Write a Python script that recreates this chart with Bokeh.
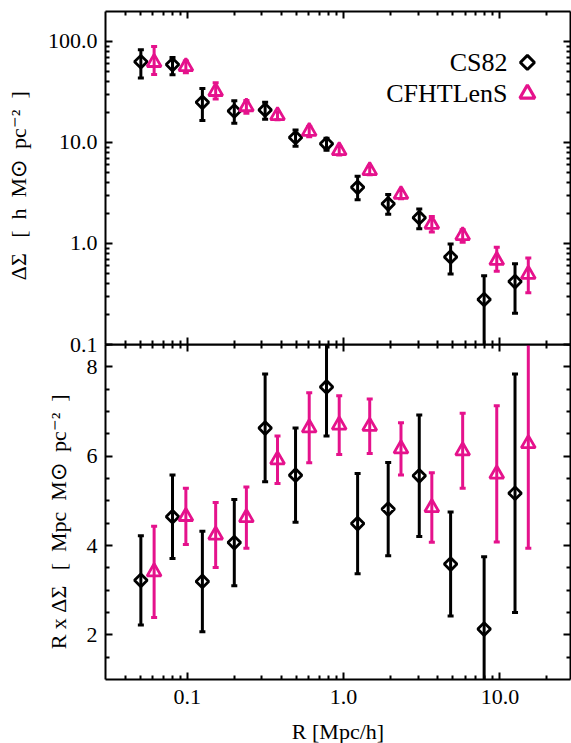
import numpy as np
from bokeh.plotting import figure
from bokeh.layouts import column
from bokeh.models import LogAxis, LinearAxis, FixedTicker, Range1d, CustomJSTickFormatter
from bokeh.core.properties import value
from bokeh.embed import file_html
from bokeh.resources import INLINE

FONT = "Liberation Serif"
AXIS_FONT = '"Liberation Serif"'
MAGENTA = "#E5128C"

# radial bins [Mpc/h]
r_cs82 = [0.0505, 0.0805, 0.125, 0.200, 0.315, 0.493, 0.778, 1.23, 1.93, 3.05, 4.84, 7.93, 12.5]
r_cfht = [0.0614, 0.098, 0.152, 0.239, 0.378, 0.603, 0.938, 1.47, 2.33, 3.67, 5.78, 9.55, 15.2]

# Delta Sigma [h M_sun pc^-2]
ds_cs82 = [63.0, 59.0, 25.0, 20.5, 21.0, 11.2, 9.7, 3.6, 2.47, 1.8, 0.735, 0.279, 0.42]
ds_cs82_lo = [43.5, 46.9, 16.5, 15.5, 17.0, 9.2, 8.4, 2.71, 1.95, 1.4, 0.5, 0.01, 0.204]
ds_cs82_hi = [82.8, 69.5, 34.3, 25.9, 25.0, 13.3, 11.0, 4.64, 3.05, 2.2, 0.99, 0.478, 0.63]

ds_cfht = [62.0, 56.5, 32.0, 22.6, 18.5, 12.9, 8.3, 5.27, 3.06, 1.55, 1.2, 0.68, 0.495]
ds_cfht_lo = [47.0, 49.0, 27.0, 19.5, 16.8, 11.4, 7.5, 4.8, 2.77, 1.3, 1.03, 0.53, 0.325]
ds_cfht_hi = [89.0, 64.0, 39.0, 26.0, 20.2, 14.4, 9.1, 5.76, 3.35, 1.85, 1.37, 0.92, 0.72]

# R x Delta Sigma [Mpc M_sun pc^-2]
rds_cs82 = [3.22, 4.645, 3.195, 4.065, 6.63, 5.575, 7.55, 4.49, 4.815, 5.56, 3.585, 2.13, 5.17]
rds_cs82_lo = [2.22, 3.71, 2.07, 3.10, 5.43, 4.52, 6.45, 3.37, 3.77, 4.20, 2.42, 0.5, 2.50]
rds_cs82_hi = [4.22, 5.58, 4.32, 5.03, 7.84, 6.63, 8.65, 5.61, 5.86, 6.92, 4.75, 3.75, 7.84]

rds_cfht = [3.41, 4.65, 4.235, 4.625, 5.92, 6.635, 6.695, 6.67, 6.165, 4.85, 6.12, 5.6, 6.28]
rds_cfht_lo = [2.39, 4.02, 3.51, 3.94, 5.39, 5.85, 6.04, 6.06, 5.58, 4.07, 5.28, 4.08, 3.94]
rds_cfht_hi = [4.43, 5.28, 4.96, 5.31, 6.45, 7.42, 7.35, 7.28, 6.75, 5.63, 6.96, 7.13, 8.62]

x_major = [0.1, 1.0, 10.0]
x_minor = [0.04, 0.05, 0.06, 0.07, 0.08, 0.09, 0.2, 0.3, 0.4, 0.5, 0.6, 0.7, 0.8, 0.9,
           2, 3, 4, 5, 6, 7, 8, 9, 20]
y1_major = [0.1, 1.0, 10.0, 100.0]
y1_minor = [0.2, 0.3, 0.4, 0.5, 0.6, 0.7, 0.8, 0.9, 2, 3, 4, 5, 6, 7, 8, 9,
            20, 30, 40, 50, 60, 70, 80, 90, 200]
y2_major = [2, 4, 6, 8]
y2_minor = [1.5, 2.5, 3, 3.5, 4.5, 5, 5.5, 6.5, 7, 7.5, 8.5]

one_decimal = CustomJSTickFormatter(code="return tick.toFixed(1);")
blank = CustomJSTickFormatter(code="return '';")

EN, EM, THIN = "\u2002", "\u2003", "\u2009"
y1_title = "ΔΣ" + EN + THIN + "[" + EN + "h" + EN + "M\u2299" + EN + "pc\u207b\u00b2" + EN + "]" + EN + THIN
y2_title = "R x ΔΣ" + EN + THIN + "[" + EN + "Mpc" + EN + "M\u2299" + EN + "pc\u207b\u00b2" + EN + "]" + EN + THIN + THIN
x_title = "R [Mpc/h]"


def style_axis(ax, ticks, minor, labelled, formatter=None):
    ax.ticker = FixedTicker(ticks=ticks, minor_ticks=minor)
    ax.major_tick_in = 7
    ax.major_tick_out = 0
    ax.minor_tick_in = 4
    ax.minor_tick_out = 0
    for attr in ("axis_line", "major_tick_line", "minor_tick_line"):
        setattr(ax, attr + "_color", "black")
        setattr(ax, attr + "_width", 2)
    ax.axis_label_text_font = AXIS_FONT
    ax.axis_label_text_font_style = "normal"
    ax.axis_label_text_color = "black"
    ax.axis_label_text_font_size = "22px"
    if labelled:
        ax.major_label_text_font = AXIS_FONT
        ax.major_label_text_font_size = "22px"
        ax.major_label_text_color = "black"
        if formatter is not None:
            ax.formatter = formatter
    else:
        ax.formatter = blank
        ax.major_label_text_font_size = "1px"
        ax.major_label_text_alpha = 0
        ax.major_label_standoff = 0


def draw_series(p, x, y, lo, hi, color, marker, size):
    p.segment(x0=x, y0=lo, x1=x, y1=hi, line_color=color, line_width=3)
    p.scatter(x=x + x, y=lo + hi, marker="dash", size=6, line_color=color, line_width=3)
    if marker == "diamond":
        p.scatter(x=x, y=y, marker="square", angle=np.pi / 4, size=size,
                  fill_color=None, line_color=color, line_width=2.8)
    else:
        p.scatter(x=x, y=y, marker="triangle", size=size,
                  fill_color=None, line_color=color, line_width=2.8)


x_range = Range1d(0.03, 28.3)

# --- upper panel: Delta Sigma ---
p1 = figure(width=571, height=358, x_axis_type="log", y_axis_type="log",
            x_range=x_range, y_range=Range1d(0.1, 198),
            output_backend="svg", toolbar_location=None,
            min_border_left=105, min_border_right=1, min_border_top=11, min_border_bottom=14)
p1.grid.visible = False
p1.outline_line_color = None
p1.background_fill_color = "white"
p1.border_fill_color = "white"

style_axis(p1.xaxis[0], x_major, x_minor, False)
style_axis(p1.yaxis[0], y1_major, y1_minor, True, one_decimal)
p1.yaxis[0].major_label_standoff = 8
p1.yaxis[0].axis_label = y1_title
p1.yaxis[0].axis_label_standoff = 14
top1 = LogAxis()
style_axis(top1, x_major, x_minor, False)
p1.add_layout(top1, "above")
right1 = LogAxis()
style_axis(right1, y1_major, y1_minor, False)
p1.add_layout(right1, "right")

draw_series(p1, r_cs82, ds_cs82, ds_cs82_lo, ds_cs82_hi, "black", "diamond", 9)
draw_series(p1, r_cfht, ds_cfht, ds_cfht_lo, ds_cfht_hi, MAGENTA, "triangle", 14)

# legend: label text on the left, symbol on the right
leg_x_text, leg_x_sym = 11.2, 15.0
leg_y = [62.0, 30.4]
p1.text(x=[leg_x_text, leg_x_text], y=leg_y, text=["CS82", "CFHTLenS"],
        text_align="right", text_baseline="middle", text_font=value(FONT),
        text_font_size="26px", text_color="black")
p1.scatter(x=[leg_x_sym], y=[leg_y[0]], marker="square", angle=np.pi / 4, size=10,
           fill_color=None, line_color="black", line_width=3)
p1.scatter(x=[leg_x_sym], y=[leg_y[1]], marker="triangle", size=15,
           fill_color=None, line_color=MAGENTA, line_width=3.2)

# --- lower panel: R x Delta Sigma (transparent, tucked under the upper panel's margin) ---
p2 = figure(width=571, height=375, x_axis_type="log",
            x_range=x_range, y_range=Range1d(1, 8.5),
            output_backend="svg", toolbar_location=None,
            min_border_left=105, min_border_right=1, min_border_top=0, min_border_bottom=40,
            margin=(-14, 0, 0, 0))
p2.grid.visible = False
p2.outline_line_color = None
p2.background_fill_color = None
p2.border_fill_color = None

style_axis(p2.xaxis[0], x_major, x_minor, True, one_decimal)
p2.xaxis[0].major_label_standoff = 10
style_axis(p2.yaxis[0], y2_major, y2_minor, True)
p2.yaxis[0].major_label_standoff = 8
p2.yaxis[0].axis_label = y2_title
p2.yaxis[0].axis_label_standoff = 13
top2 = LogAxis()
style_axis(top2, x_major, x_minor, False)
p2.add_layout(top2, "above")
right2 = LinearAxis()
style_axis(right2, y2_major, y2_minor, False)
p2.add_layout(right2, "right")

draw_series(p2, r_cs82, rds_cs82, rds_cs82_lo, rds_cs82_hi, "black", "diamond", 9)
draw_series(p2, r_cfht, rds_cfht, rds_cfht_lo, rds_cfht_hi, MAGENTA, "triangle", 14)

# --- strip under the panels carrying the x-axis title, centred on the shared frame ---
p3 = figure(width=571, height=24, x_axis_type="log", x_range=x_range, y_range=Range1d(0, 1),
            output_backend="svg", toolbar_location=None,
            x_axis_location=None, y_axis_location=None,
            min_border_left=105, min_border_right=1, min_border_top=0, min_border_bottom=0)
p3.grid.visible = False
p3.outline_line_color = None
p3.background_fill_color = None
p3.border_fill_color = None
x_mid = float(np.sqrt(x_range.start * x_range.end))
p3.text(x=[x_mid], y=[0.5], text=[x_title], text_align="center", text_baseline="middle",
        text_font=value(FONT), text_font_size="22px", text_color="black")

layout = column(p1, p2, p3, spacing=0)
open("out.html", "w").write(file_html(layout, INLINE))
